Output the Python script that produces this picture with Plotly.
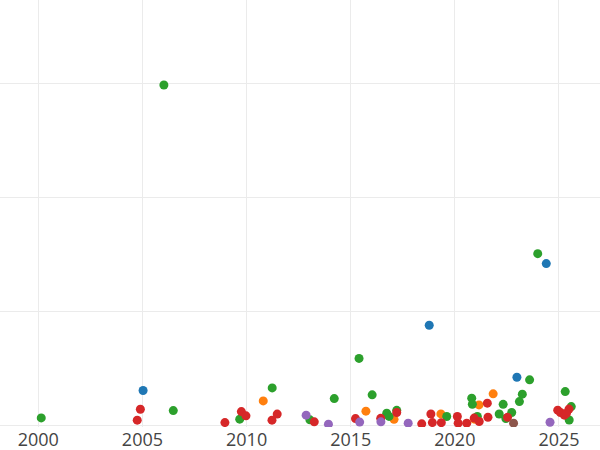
import plotly.graph_objects as go

# Data, one series per colour
blue_x = [2005.03, 2018.77, 2022.98, 2024.39]
blue_y = [3.10, 8.83, 4.27, 14.24]

orange_x = [2010.80, 2015.73, 2017.08, 2019.33, 2020.94, 2021.16, 2021.84]
orange_y = [2.19, 1.29, 0.57, 1.05, 0.59, 1.84, 2.81]

green_x = [2000.14, 2006.48, 2006.03, 2009.67, 2011.23, 2013.04, 2014.21, 2015.40,
           2016.03, 2016.73, 2016.84, 2017.21, 2019.61, 2020.81, 2020.84, 2021.08,
           2022.13, 2022.32, 2022.45, 2022.73, 2023.10, 2023.24, 2023.59, 2023.98,
           2025.30, 2025.59, 2025.49]
green_y = [0.70, 1.34, 29.91, 0.59, 3.33, 0.53, 2.39, 5.92,
           2.72, 1.11, 0.83, 1.36, 0.82, 2.43, 1.90, 0.82,
           1.04, 1.89, 0.64, 1.17, 2.13, 2.78, 4.04, 15.11,
           3.01, 1.69, 0.51]

red_x = [2004.90, 2004.75, 2008.96, 2009.75, 2009.97, 2011.22, 2011.47, 2013.25,
         2015.23, 2016.44, 2017.21, 2018.41, 2018.85, 2018.92, 2019.35, 2020.12,
         2020.16, 2020.57, 2020.93, 2021.17, 2021.56, 2021.59, 2022.53, 2024.94,
         2025.07, 2025.26, 2025.48, 2025.36]
red_y = [1.46, 0.50, 0.29, 1.25, 0.88, 0.50, 1.03, 0.35,
         0.64, 0.66, 1.17, 0.18, 1.04, 0.29, 0.28, 0.82,
         0.24, 0.24, 0.68, 0.38, 1.99, 0.76, 0.75, 1.38,
         1.17, 0.94, 1.47, 1.10]

purple_x = [2012.86, 2013.93, 2015.43, 2016.45, 2017.76, 2024.57]
purple_y = [0.94, 0.15, 0.33, 0.35, 0.24, 0.32]

brown_x = [2022.82]
brown_y = [0.24]

series = [
    (blue_x, blue_y, "#1f77b4"),
    (orange_x, orange_y, "#ff7f0e"),
    (green_x, green_y, "#2ca02c"),
    (red_x, red_y, "#d62728"),
    (purple_x, purple_y, "#9467bd"),
    (brown_x, brown_y, "#8c564b"),
]

fig = go.Figure()
for xs, ys, col in series:
    fig.add_trace(go.Scatter(x=xs, y=ys, mode="markers",
                             marker=dict(size=9, color=col, line=dict(width=0)),
                             showlegend=False))

fig.update_layout(
    width=600, height=450,
    margin=dict(l=0, r=0, t=0, b=23),
    paper_bgcolor="white", plot_bgcolor="white",
    font=dict(family="Open Sans", size=18, color="#444"),
    xaxis=dict(range=[1998.16, 2026.97], tickvals=[2000, 2005, 2010, 2015, 2020, 2025],
               showgrid=True, gridcolor="#ebebeb", gridwidth=1, zeroline=False,
               showline=False, ticks=""),
    yaxis=dict(range=[-0.1, 37.37], dtick=10, showticklabels=False,
               showgrid=True, gridcolor="#ebebeb", gridwidth=1, zeroline=False,
               showline=False, ticks=""),
)

fig.write_html("out.html",
               config={"displayModeBar": False},
               post_script="document.body.style.margin='0';document.body.style.overflow='hidden';")
